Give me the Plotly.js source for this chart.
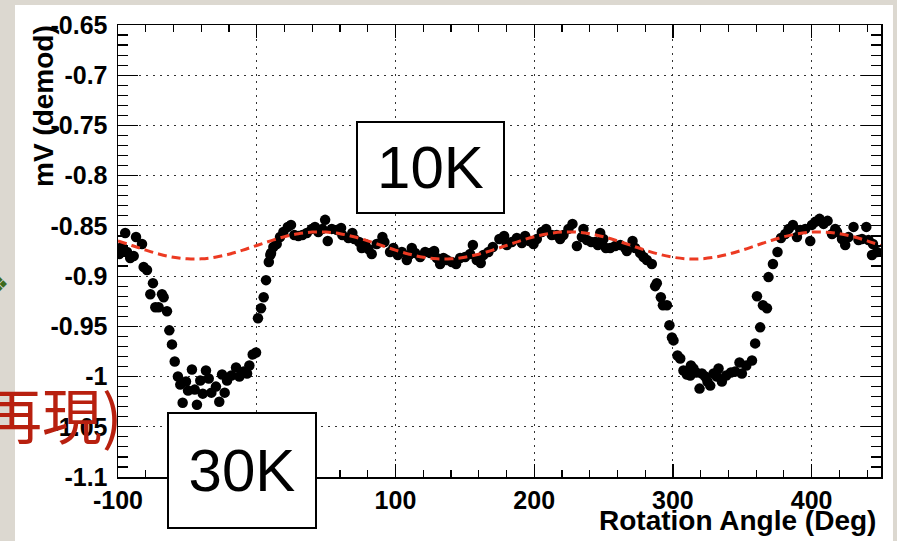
<!DOCTYPE html>
<html>
<head>
<meta charset="utf-8">
<script src="https://cdn.plot.ly/plotly-3.0.1.min.js"></script>
<style>
html,body{margin:0;padding:0;background:#dcd8d0;}
#chart{width:897px;height:541px;}
</style>
</head>
<body>
<div id="chart"></div>
<script>
// Measured points: rotation angle (deg) and signal (mV, demod)
const angleDeg = [
-94.8,-99.1,-97.1,-93.5,-91.2,-88.7,-87.0,-82.7,-81.5,-79.1,-74.8,-76.7,-68.3,-67.1,-73.1,-70.7,-64.7,-63.0,-61.1,-59.1,
-56.8,-55.1,-51.0,-49.5,-46.7,-44.7,-53.4,-43.1,-40.7,-38.9,-36.6,-34.6,-32.7,-29.4,-27.0,-25.0,-23.1,-21.4,-18.3,-14.9,
-12.5,-9.4,-7.0,-5.3,-2.9,-0.5,0.9,3.1,5.0,6.7,8.7,9.8,10.3,12.0,14.4,16.8,19.2,22.4,24.7,27.1,
30.0,32.9,36.1,39.7,42.0,44.4,49.3,47.3,51.2,54.1,57.7,60.8,61.7,66.1,68.9,70.4,73.8,75.7,78.1,80.5,
82.9,86.5,90.6,92.0,96.1,98.5,101.7,104.6,108.2,109.8,111.8,114.2,117.8,121.4,125.0,127.9,129.8,132.2,134.6,137.0,
140.6,143.7,146.6,150.2,153.8,155.8,158.6,161.5,163.4,167.0,170.2,174.9,178.3,180.3,183.9,187.5,191.1,193.5,196.6,199.5,
201.9,205.5,208.6,212.7,216.3,218.7,221.1,224.7,227.6,230.8,234.4,235.5,238.0,241.1,244.0,245.9,247.6,249.9,251.7,254.8,
258.4,262.0,265.6,266.8,270.9,272.8,276.4,278.8,281.2,284.8,288.4,287.2,291.3,292.8,295.7,297.5,299.3,300.4,303.3,305.3,
307.6,310.1,313.0,312.5,314.8,316.8,319.2,320.9,323.3,324.9,326.9,329.3,331.7,332.9,335.3,338.4,341.8,344.9,348.0,349.7,
352.9,357.0,359.3,362.9,364.9,367.8,360.6,368.9,372.1,375.4,377.9,381.0,383.4,386.5,389.4,391.8,395.4,399.0,400.2,402.6,
405.7,408.6,411.5,414.7,417.0,418.3,421.9,424.2,426.6,430.2,433.8,436.3,439.4,441.0,444.2,443.5,447.1
];
const signalMv = [
-0.857,-0.878,-0.871,-0.876,-0.882,-0.880,-0.861,-0.868,-0.891,-0.894,-0.907,-0.918,-0.918,-0.921,-0.931,-0.931,-0.935,-0.954,-0.968,-0.985,
-1.000,-1.008,-1.005,-1.014,-0.993,-1.013,-1.026,-1.028,-1.004,-1.017,-0.994,-1.002,-1.016,-1.010,-1.025,-0.998,-1.016,-1.004,-0.999,-0.991,
-1.000,-0.995,-0.997,-0.989,-0.978,-0.976,-0.942,-0.932,-0.921,-0.904,-0.886,-0.879,-0.877,-0.871,-0.868,-0.861,-0.856,-0.851,-0.849,-0.859,
-0.860,-0.859,-0.857,-0.853,-0.851,-0.856,-0.844,-0.853,-0.865,-0.853,-0.854,-0.852,-0.859,-0.862,-0.857,-0.863,-0.866,-0.872,-0.868,-0.873,
-0.878,-0.868,-0.861,-0.866,-0.876,-0.872,-0.879,-0.876,-0.884,-0.879,-0.872,-0.877,-0.881,-0.876,-0.877,-0.875,-0.882,-0.888,-0.882,-0.884,
-0.886,-0.888,-0.882,-0.881,-0.878,-0.869,-0.884,-0.887,-0.879,-0.876,-0.871,-0.863,-0.860,-0.869,-0.866,-0.862,-0.867,-0.860,-0.865,-0.868,
-0.863,-0.856,-0.853,-0.859,-0.859,-0.863,-0.859,-0.853,-0.848,-0.870,-0.861,-0.853,-0.864,-0.866,-0.866,-0.869,-0.857,-0.863,-0.872,-0.872,
-0.870,-0.869,-0.872,-0.875,-0.865,-0.872,-0.877,-0.881,-0.884,-0.888,-0.907,-0.910,-0.921,-0.929,-0.929,-0.949,-0.961,-0.964,-0.979,-0.982,
-0.994,-0.998,-0.989,-0.999,-0.992,-0.996,-1.012,-0.997,-1.000,-1.005,-1.009,-0.997,-1.000,-0.992,-1.005,-0.999,-0.996,-0.995,-0.986,-0.997,
-0.989,-0.984,-0.967,-0.951,-0.929,-0.932,-0.920,-0.901,-0.888,-0.876,-0.862,-0.858,-0.853,-0.849,-0.861,-0.854,-0.853,-0.865,-0.849,-0.846,
-0.843,-0.848,-0.845,-0.858,-0.853,-0.856,-0.863,-0.869,-0.861,-0.851,-0.864,-0.863,-0.851,-0.864,-0.868,-0.879,-0.876
];
// Fit curve (red dashed), read every 10 deg
const fitDeg = [-100,-90,-80,-70,-60,-50,-40,-30,-20,-10,0,10,20,30,40,50,60,70,80,90,100,110,120,130,140,150,160,170,180,190,
200,210,220,230,240,250,260,270,280,290,300,310,320,330,340,350,360,370,380,390,400,410,420,430,440,450];
const fitMv = [-0.8649,-0.8695,-0.8741,-0.8782,-0.8812,-0.8828,-0.8828,-0.8812,-0.8782,-0.8741,-0.8695,-0.8649,-0.8608,-0.8578,-0.8562,
-0.8562,-0.8578,-0.8608,-0.8649,-0.8695,-0.8741,-0.8782,-0.8812,-0.8828,-0.8828,-0.8812,-0.8782,-0.8741,-0.8695,-0.8649,
-0.8608,-0.8578,-0.8562,-0.8562,-0.8578,-0.8608,-0.8649,-0.8695,-0.8741,-0.8782,-0.8812,-0.8828,-0.8828,-0.8812,-0.8782,
-0.8741,-0.8695,-0.8649,-0.8608,-0.8578,-0.8562,-0.8562,-0.8578,-0.8608,-0.8649,-0.8695];

const xTickVals = [-100,0,100,200,300,400];
const xTickText = ["-100","0","100","200","300","400"];
const yTickVals = [-0.65,-0.7,-0.75,-0.8,-0.85,-0.9,-0.95,-1,-1.05,-1.1];
const yTickText = ["-0.65","-0.7","-0.75","-0.8","-0.85","-0.9","-0.95","-1","-1.05","-1.1"];

const boxLabels = ["10K","30K"];

const F = "Liberation Sans, Arial, Helvetica, sans-serif";

const traces = [
  {x: angleDeg, y: signalMv, type: "scatter", mode: "markers",
   marker: {color: "#000", size: 10.5}, hoverinfo: "skip", showlegend: false},
  {x: fitDeg, y: fitMv, type: "scatter", mode: "lines", line: {shape: "spline",
   color: "#ec3a22", width: 3, dash: "9px,5px"}, hoverinfo: "skip", showlegend: false}
];

const axisCommon = {
  showline: true, linecolor: "#000", linewidth: 1.5, mirror: "ticks",
  ticks: "inside", tickcolor: "#000", tickwidth: 1.2,
  showgrid: true, gridcolor: "#333", gridwidth: 1, griddash: "2px,5px",
  zeroline: false, tickmode: "array",
  tickfont: {family: F, size: 25, color: "#000", weight: "bold"}
};

const layout = {
  width: 897, height: 541,
  margin: {l: 118, r: 16, t: 25, b: 64},
  paper_bgcolor: "#dcd8d0", plot_bgcolor: "#ffffff",
  font: {family: F},
  xaxis: Object.assign({}, axisCommon, {
    range: [-100, 450], tickvals: xTickVals, ticktext: xTickText, ticklen: 13,
    minor: {dtick: 20, tick0: 0, ticks: "inside", ticklen: 7, tickcolor: "#000", showgrid: false},
    ticklabelstandoff: 0
  }),
  yaxis: Object.assign({}, axisCommon, {
    range: [-1.1, -0.65], tickvals: yTickVals, ticktext: yTickText, ticklen: 20,
    minor: {dtick: 0.01, tick0: -1.1, ticks: "inside", ticklen: 10, tickcolor: "#000", showgrid: false},
    ticklabelstandoff: 4
  }),
  shapes: [
    {type: "rect", xref: "paper", yref: "paper", x0: -0.135, x1: 1.0157, y0: -0.25, y1: 1.0442,
     fillcolor: "#ffffff", line: {width: 0}, layer: "below"}
  ],
  annotations: [
    {xref: "paper", yref: "paper", x: -0.0983, y: 1.0044, xanchor: "center", yanchor: "top",
     text: "mV (demod)", textangle: -90, showarrow: false,
     font: {family: F, size: 28, color: "#000", weight: "bold"}},
    {xref: "paper", yref: "paper", x: 0.996, y: -0.0973, xanchor: "right", yanchor: "middle",
     text: "Rotation Angle (Deg)", showarrow: false,
     font: {family: F, size: 28, color: "#000", weight: "bold"}},
    {xref: "paper", yref: "paper", x: 0.4096, y: 0.6847, xanchor: "center", yanchor: "middle",
     text: boxLabels[0], showarrow: false, width: 145, height: 89, bgcolor: "#fff",
     bordercolor: "#000", borderwidth: 2, borderpad: 0, align: "center", valign: "middle",
     font: {family: F, size: 60, color: "#000"}},
    {xref: "paper", yref: "paper", x: 0.1625, y: 0.0144, xanchor: "center", yanchor: "middle",
     text: boxLabels[1], showarrow: false, width: 146, height: 113, bgcolor: "#fff",
     bordercolor: "#000", borderwidth: 2, borderpad: 0, align: "center", valign: "middle",
     font: {family: F, size: 60, color: "#000"}},
    {xref: "paper", yref: "paper", x: 0.0085, y: 0.1416, xanchor: "right", yanchor: "middle",
     text: "再現)", showarrow: false,
     font: {family: "Noto Sans CJK JP, sans-serif", size: 60, color: "#b8200f"}},
    {xref: "paper", yref: "paper", x: -0.14, y: 0.425, xanchor: "right", yanchor: "middle",
     text: "❖", showarrow: false,
     font: {family: "DejaVu Sans, sans-serif", size: 22, color: "#3d6b1f"}}
  ]
};

Plotly.newPlot("chart", traces, layout, {staticPlot: true, displayModeBar: false});
</script>
</body>
</html>
